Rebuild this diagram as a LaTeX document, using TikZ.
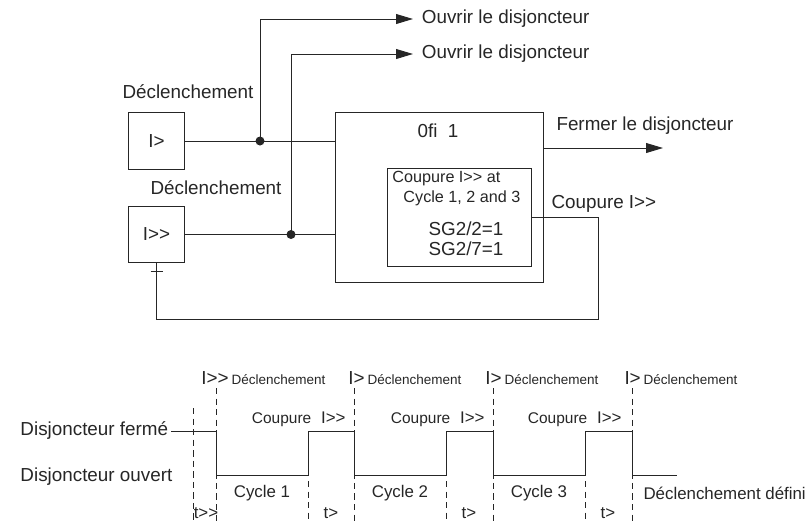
\documentclass[tikz,border=0pt]{standalone}
\usepackage{fontspec}
\setmainfont{Liberation Sans}
\usetikzlibrary{arrows.meta,positioning}

\newcommand{\fs}[1]{\fontsize{#1}{#1}\selectfont}
\newcommand{\Ibig}{I>{}>}

\begin{document}
\begin{tikzpicture}[x=0.025cm, y=-0.025cm, line width=0.7pt, color=black!85,
  bloc/.style={rectangle, draw, minimum width=1.4cm, minimum height=1.42cm, font=\fs{13.4}},
  lbl/.style={inner sep=0pt, font=\fs{13.4}},
  fleche/.style={-{Triangle[length=12pt,width=7pt]}},
  guide/.style={dash pattern=on 4.5pt off 3pt, line width=0.6pt}]
\useasboundingbox (0,0) rectangle (808,522);

% schema logique
\node[bloc] (inst) at (156.5,141) {I>};
\node[bloc] (haut) at (156.5,234.5) {\Ibig};
\node[lbl] (dec1) at (188,92) {Déclenchement};
\node[lbl] (dec2) at (216,188) {Déclenchement};

\node[rectangle, draw, minimum width=5.175cm, minimum height=4.225cm] (logi) at (439.5,197.5) {};
\node[lbl] (nom) at (438,131) {0fi~~1};
\node[rectangle, draw, minimum width=3.575cm, minimum height=2.45cm] (coup) at (459.5,217) {};
\node[lbl, font=\fs{11.5}, anchor=west] (c1) at (392,179) {Coupure \Ibig{} at};
\node[lbl, font=\fs{11.5}, anchor=west] (c2) at (403,198) {Cycle~1, 2 and 3};
\node[lbl] (sg2) at (466,229) {SG2/2=1};
\node[lbl] (sg7) at (466,249) {SG2/7=1};

\node[lbl, anchor=west, inner xsep=6pt] (ouv1) at (413,19) {Ouvrir le disjoncteur};
\node[lbl, anchor=west, inner xsep=6pt] (ouv2) at (413,54) {Ouvrir le disjoncteur};
\node[lbl, anchor=west] (ferm) at (556,126) {Fermer le disjoncteur};
\node[lbl, anchor=west] (cpl) at (551,204) {Coupure~\Ibig};

\coordinate (j1) at (260,141);
\coordinate (j2) at (291,234.5);
\coordinate (fin) at (663,148);
\coordinate (ret) at (598,319);

\draw (inst.east) -- (logi.west |- inst.east);
\draw (haut.east) -- (logi.west |- haut.east);
\draw[fleche] (j1) |- (ouv1.west);
\draw[fleche] (j2) |- (ouv2.west);
\fill (j1) circle (3.2pt);
\fill (j2) circle (3.2pt);
\draw[fleche] (logi.east |- fin) -- (fin);
\draw (coup.east) -| (ret) -| (haut.south);
\draw ([shift={(-6,8)}]haut.south) -- ++(12,0);

% chronogramme
\node[lbl, anchor=west] (ferme) at (20,431) {Disjoncteur fermé};
\node[lbl, anchor=west] (ouvert) at (20,477) {Disjoncteur ouvert};

\draw (171,431) -- (216,431) -- (216,475) -- (308,475) -- (308,431) -- (354,431)
  -- (354,475) -- (446,475) -- (446,431) -- (493,431) -- (493,475) -- (585,475)
  -- (585,431) -- (632,431) -- (632,475) -- (677,475);

\draw[guide] (193,408) -- (193,522);
\foreach \x in {216,354,493,632}
  \draw[guide] (\x,388) -- (\x,522);
\foreach \x in {308,446,585}
  \draw[guide] (\x,481) -- (\x,522);

\node[lbl, anchor=west] (d0) at (201,378) {\Ibig\kern2pt{\fs{9.6}Déclenchement}};
\foreach \x [count=\i] in {348,485,624}
  \node[lbl, anchor=west] (d\i) at (\x,378) {I>\kern2pt{\fs{9.6}Déclenchement}};
\foreach \x [count=\i] in {346,485,622}
  \node[lbl, anchor=east] (cp\i) at (\x,419) {{\fs{11}Coupure}\hspace{7pt}{\fs{12}\Ibig}};
\foreach \x [count=\i] in {262,400,539}
  \node[lbl, font=\fs{12}] (cy\i) at (\x,493) {Cycle \i};
\node[lbl, font=\fs{12}] (t0) at (206,513) {t>{}>};
\foreach \x [count=\i] in {331,469,608}
  \node[lbl, font=\fs{12}] (t\i) at (\x,513) {t>};
\node[lbl, anchor=west, font=\fs{12}] (defini) at (643,493) {Déclenchement défini};
\end{tikzpicture}
\end{document}
